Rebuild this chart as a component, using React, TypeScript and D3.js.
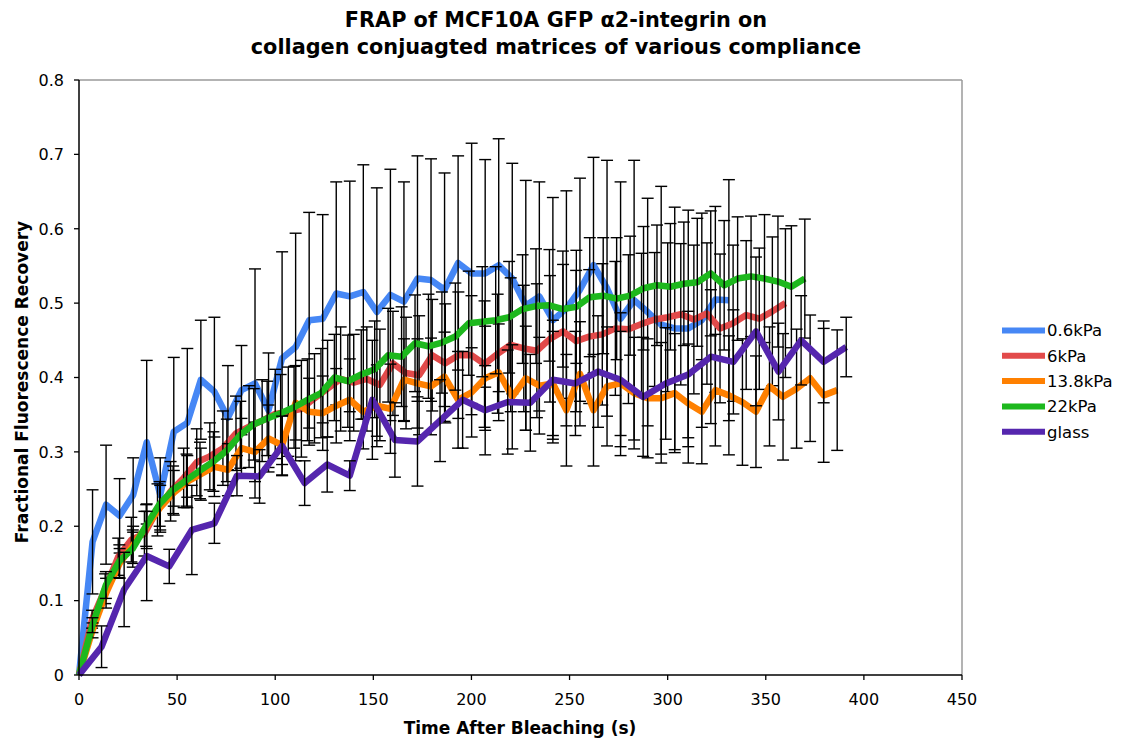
import React from "react";
import * as d3 from "d3";

const seriesNames = ["0.6kPa", "6kPa", "13.8kPa", "22kPa", "glass"];
const seriesColors = ["#4687F5", "#E24A4A", "#FF8000", "#1DB81D", "#5526AE"];
const timeSteps = [6.9, 6.667, 6.9, 6.85, 11.5];

const blueVals = [0, 0.179, 0.229, 0.214, 0.242, 0.313, 0.242, 0.327, 0.339, 0.397, 0.381, 0.346, 0.383, 0.392, 0.356, 0.426, 0.441, 0.477, 0.479, 0.513, 0.509, 0.515, 0.488, 0.511, 0.502, 0.533, 0.531, 0.518, 0.554, 0.54, 0.54, 0.551, 0.533, 0.497, 0.509, 0.477, 0.493, 0.518, 0.551, 0.52, 0.479, 0.504, 0.488, 0.471, 0.466, 0.466, 0.477, 0.505, 0.504];
const blueErr = [0, 0.07, 0.08, 0.05, 0.05, 0.11, 0.05, 0.1, 0.1, 0.08, 0.1, 0.07, 0.06, 0.154, 0.077, 0.143, 0.153, 0.145, 0.14, 0.15, 0.155, 0.171, 0.167, 0.169, 0.161, 0.165, 0.163, 0.157, 0.144, 0.175, 0.153, 0.17, 0.155, 0.168, 0.154, 0.165, 0.158, 0.15, 0.145, 0.172, 0.184, 0.188, 0.153, 0.186, 0.163, 0.159, 0.144, 0.125, 0.162];

const redVals = [0, 0.075, 0.116, 0.159, 0.182, 0.19, 0.222, 0.247, 0.265, 0.286, 0.294, 0.305, 0.325, 0.334, 0.342, 0.351, 0.354, 0.358, 0.372, 0.385, 0.398, 0.393, 0.398, 0.39, 0.419, 0.406, 0.403, 0.43, 0.419, 0.43, 0.43, 0.418, 0.432, 0.444, 0.439, 0.436, 0.452, 0.462, 0.449, 0.455, 0.458, 0.466, 0.465, 0.472, 0.478, 0.481, 0.485, 0.478, 0.486, 0.466, 0.473, 0.484, 0.479, 0.489, 0.5];
const redErr = [0, 0.012, 0.02, 0.025, 0.03, 0.03, 0.035, 0.04, 0.04, 0.045, 0.045, 0.05, 0.05, 0.055, 0.055, 0.06, 0.06, 0.065, 0.06, 0.065, 0.07, 0.065, 0.07, 0.075, 0.07, 0.075, 0.08, 0.075, 0.08, 0.085, 0.08, 0.085, 0.08, 0.09, 0.085, 0.09, 0.085, 0.09, 0.095, 0.09, 0.095, 0.09, 0.1, 0.095, 0.09, 0.1, 0.095, 0.1, 0.095, 0.1, 0.105, 0.1, 0.095, 0.1, 0.1];

const orangeVals = [0, 0.06, 0.11, 0.15, 0.175, 0.2, 0.225, 0.245, 0.26, 0.27, 0.28, 0.276, 0.305, 0.3, 0.318, 0.309, 0.366, 0.354, 0.352, 0.362, 0.37, 0.354, 0.362, 0.358, 0.397, 0.392, 0.388, 0.401, 0.37, 0.38, 0.399, 0.407, 0.374, 0.399, 0.389, 0.392, 0.356, 0.405, 0.356, 0.388, 0.392, 0.379, 0.372, 0.372, 0.379, 0.365, 0.354, 0.383, 0.376, 0.367, 0.354, 0.388, 0.374, 0.385, 0.399, 0.376, 0.383];
const orangeErr = [0, 0.01, 0.02, 0.02, 0.025, 0.03, 0.03, 0.03, 0.035, 0.035, 0.04, 0.035, 0.04, 0.04, 0.045, 0.04, 0.05, 0.045, 0.05, 0.05, 0.055, 0.05, 0.055, 0.06, 0.055, 0.06, 0.065, 0.06, 0.065, 0.06, 0.07, 0.065, 0.07, 0.07, 0.065, 0.07, 0.075, 0.07, 0.075, 0.08, 0.07, 0.075, 0.08, 0.075, 0.08, 0.08, 0.07, 0.075, 0.08, 0.085, 0.075, 0.08, 0.085, 0.08, 0.085, 0.09, 0.081];

const greenVals = [0, 0.067, 0.121, 0.153, 0.17, 0.201, 0.23, 0.249, 0.262, 0.275, 0.287, 0.302, 0.323, 0.337, 0.345, 0.352, 0.36, 0.37, 0.379, 0.4, 0.395, 0.404, 0.411, 0.43, 0.428, 0.446, 0.442, 0.447, 0.455, 0.473, 0.475, 0.477, 0.481, 0.492, 0.496, 0.497, 0.492, 0.495, 0.508, 0.51, 0.506, 0.51, 0.52, 0.524, 0.522, 0.526, 0.528, 0.54, 0.524, 0.533, 0.536, 0.533, 0.529, 0.522, 0.533];
const greenErr = [0, 0.01, 0.018, 0.022, 0.025, 0.028, 0.03, 0.032, 0.035, 0.038, 0.04, 0.042, 0.045, 0.048, 0.05, 0.052, 0.055, 0.055, 0.06, 0.058, 0.062, 0.06, 0.065, 0.063, 0.067, 0.065, 0.07, 0.068, 0.072, 0.07, 0.074, 0.072, 0.075, 0.073, 0.077, 0.075, 0.078, 0.076, 0.08, 0.078, 0.082, 0.08, 0.083, 0.081, 0.085, 0.083, 0.086, 0.084, 0.087, 0.083, 0.081, 0.086, 0.088, 0.082, 0.08];

const purpleVals = [0, 0.038, 0.115, 0.16, 0.146, 0.195, 0.204, 0.268, 0.267, 0.308, 0.258, 0.283, 0.268, 0.37, 0.316, 0.314, 0.342, 0.37, 0.356, 0.367, 0.366, 0.397, 0.392, 0.408, 0.397, 0.374, 0.392, 0.404, 0.428, 0.421, 0.462, 0.408, 0.45, 0.421, 0.441];
const purpleErr = [0, 0.028, 0.05, 0.06, 0.023, 0.06, 0.027, 0.027, 0.036, 0.04, 0.03, 0.037, 0.02, 0.08, 0.05, 0.06, 0.055, 0.065, 0.06, 0.07, 0.065, 0.08, 0.07, 0.075, 0.09, 0.08, 0.075, 0.085, 0.09, 0.07, 0.1, 0.065, 0.06, 0.055, 0.04];

const seriesVals = [blueVals, redVals, orangeVals, greenVals, purpleVals];
const seriesErrs = [blueErr, redErr, orangeErr, greenErr, purpleErr];

const xTicks = [0, 50, 100, 150, 200, 250, 300, 350, 400, 450];
const yTicks = [0, 0.1, 0.2, 0.3, 0.4, 0.5, 0.6, 0.7, 0.8];

const titleLines = ["FRAP of MCF10A GFP \u03b12-integrin on", "collagen conjuagted matrices of various compliance"];
const xTitle = "Time After Bleaching (s)";
const yTitle = "Fractional Fluorescence Recovery";

const W = 1126;
const H = 742;
const left = 79;
const right = 962;
const top = 80;
const bottom = 675;
const FONT = "'DejaVu Sans', Verdana, sans-serif";

export default function App() {
  const x = d3.scaleLinear().domain([0, 450]).range([left, right]);
  const y = d3.scaleLinear().domain([0, 0.8]).range([bottom, top]);

  const series = seriesNames.map((name, s) =>
    seriesVals[s].map((v, i) => ({ t: i * timeSteps[s], v, e: seriesErrs[s][i] ?? 0 }))
  );

  const line = d3
    .line<{ t: number; v: number }>()
    .x((d) => x(d.t))
    .y((d) => y(d.v));

  return (
    <svg
      width={W}
      height={H}
      style={{ position: "absolute", left: 0, top: 0, background: "#fff" }}
      fontFamily={FONT}
    >
      <rect x={0} y={0} width={W} height={H} fill="#fff" />
      {titleLines.map((t, i) => (
        <text key={i} x={556} y={27 + i * 27} textAnchor="middle" fontSize={20.8} fontWeight="bold" fill="#000">
          {t}
        </text>
      ))}
      {/* plot frame */}
      <line x1={left} x2={right} y1={top} y2={top} stroke="#9a9a9a" strokeWidth={1.5} />
      <line x1={right} x2={right} y1={top} y2={bottom} stroke="#9a9a9a" strokeWidth={1.5} />

      {series.map((data, s) => (
        <g key={s}>
          <path d={line(data) || ""} fill="none" stroke={seriesColors[s]} strokeWidth={6.5} strokeLinejoin="round" />
          {data.map((d, i) =>
            d.e > 0 ? (
              <g key={i} stroke="#000" strokeWidth={1.4}>
                <line x1={x(d.t)} x2={x(d.t)} y1={y(d.v + d.e)} y2={y(d.v - d.e)} />
                <line x1={x(d.t) - 6} x2={x(d.t) + 6} y1={y(d.v + d.e)} y2={y(d.v + d.e)} />
                <line x1={x(d.t) - 6} x2={x(d.t) + 6} y1={y(d.v - d.e)} y2={y(d.v - d.e)} />
              </g>
            ) : null
          )}
        </g>
      ))}

      {/* axes */}
      <line x1={left} x2={left} y1={top} y2={bottom} stroke="#000" strokeWidth={1.5} />
      <line x1={left} x2={right} y1={bottom} y2={bottom} stroke="#000" strokeWidth={1.5} />
      {yTicks.map((t) => (
        <g key={t}>
          <line x1={left - 5} x2={left} y1={y(t)} y2={y(t)} stroke="#000" strokeWidth={1.3} />
          <text x={64} y={y(t)} dy="0.36em" textAnchor="end" fontSize={16} fill="#000">
            {t === 0 ? "0" : t.toFixed(1)}
          </text>
        </g>
      ))}
      {xTicks.map((t) => (
        <g key={t}>
          <line x1={x(t)} x2={x(t)} y1={bottom} y2={bottom + 5} stroke="#000" strokeWidth={1.3} />
          <text x={x(t)} y={705} textAnchor="middle" fontSize={16} fill="#000">
            {t}
          </text>
        </g>
      ))}
      <text x={520} y={734} textAnchor="middle" fontSize={17} fontWeight="bold" fill="#000">
        {xTitle}
      </text>
      <text
        transform={`translate(28,382) rotate(-90)`}
        textAnchor="middle"
        fontSize={17}
        fontWeight="bold"
        fill="#000"
      >
        {yTitle}
      </text>

      {/* legend */}
      {seriesNames.map((n, i) => {
        const ly = 330.5 + i * 25.3;
        return (
          <g key={n}>
            <line x1={1002} x2={1045} y1={ly} y2={ly} stroke={seriesColors[i]} strokeWidth={6} />
            <text x={1047} y={ly} dy="0.36em" fontSize={16.5} fill="#000">
              {n}
            </text>
          </g>
        );
      })}
    </svg>
  );
}
